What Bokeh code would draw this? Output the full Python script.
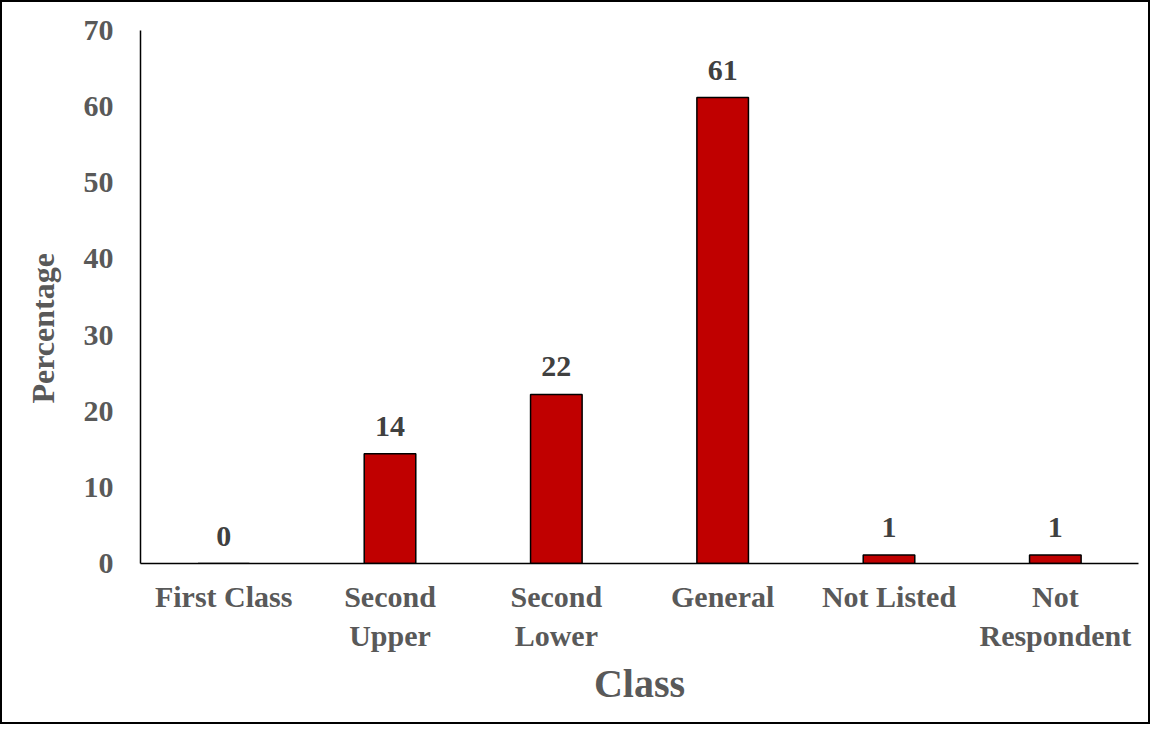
from bokeh.plotting import figure
from bokeh.models import ColumnDataSource, FactorRange, LabelSet, Title
from bokeh.embed import file_html
from bokeh.resources import INLINE

categories = ["First Class", "Second\nUpper", "Second\nLower", "General", "Not Listed", "Not\nRespondent"]
values = [0.0, 14.4, 22.2, 61.2, 1.1, 1.1]
labels = [str(int(round(v))) for v in values]
y_ticks = [0, 10, 20, 30, 40, 50, 60, 70]

FONT = "Liberation Serif"
GREY = "#595959"

src = ColumnDataSource(dict(x=categories, top=values, label=labels))

p = figure(x_range=FactorRange(*categories, range_padding=0), y_range=(0, 70),
           width=1150, height=724, output_backend="svg", toolbar_location=None,
           min_border_left=135, min_border_right=14, min_border_top=28, min_border_bottom=163)
p.styles = {"border": "2px solid black", "box-sizing": "border-box"}

p.vbar(x="x", top="top", width=0.31, source=src, fill_color="#C00000",
       line_color="black", line_width=1.5)

p.add_layout(LabelSet(x="x", y="top", text="label", source=src, y_offset=18,
                      text_align="center", text_baseline="bottom",
                      text_font=FONT, text_font_style="bold", text_font_size="30px",
                      text_color="#404040"))

p.grid.visible = False
p.outline_line_color = None

for ax in (p.xaxis[0], p.yaxis[0]):
    ax.axis_line_color = "black"
    ax.axis_line_width = 1.5
    ax.major_tick_line_color = None
    ax.minor_tick_line_color = None
    ax.major_tick_out = 0
    ax.major_tick_in = 0
    ax.major_label_text_font = FONT
    ax.major_label_text_font_style = "bold"
    ax.major_label_text_color = GREY
    ax.axis_label_text_font = FONT
    ax.axis_label_text_font_style = "bold"
    ax.axis_label_text_color = GREY

p.yaxis.ticker = y_ticks
p.yaxis.major_label_text_font_size = "30px"
p.yaxis.major_label_standoff = 27

ytitle = Title(text="Percentage", align="left", offset=160, standoff=40,
               text_font=FONT, text_font_style="bold", text_font_size="32px",
               text_color=GREY)
p.add_layout(ytitle, "left")

p.xaxis.major_label_text_font_size = "30px"
p.xaxis.major_label_standoff = 16
p.xaxis.major_label_text_line_height = 1.2
p.xaxis.axis_label = "Class"
p.xaxis.axis_label_text_font_size = "40px"
p.xaxis.axis_label_standoff = 6

open("out.html", "w").write(file_html(p, INLINE))
